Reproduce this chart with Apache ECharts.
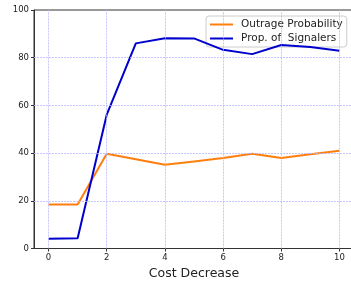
<!DOCTYPE html>
<html><head><meta charset="utf-8">
<script src="https://cdn.jsdelivr.net/npm/echarts@6/dist/echarts.min.js"></script>
<style>html,body{margin:0;padding:0;background:#fff}#c{width:351px;height:283px}</style>
</head><body><div id="c"></div>
<script>
const costDecrease = [0,1,2,3,4,5,6,7,8,9,10];
const outrageProbability = [18.5,18.5,39.7,37.4,35.1,36.5,37.9,39.7,37.9,39.5,41.0];
const propSignalers = [4.1,4.3,56.1,86.0,88.2,88.1,83.3,81.5,85.3,84.5,82.9];
const xTicks = [0,2,4,6,8,10];
const yGridTicks = [20,40,60,80];
const chart = echarts.init(document.getElementById('c'));
const font = 'DejaVu Sans';
const gridColor = '#b8b8ff';
chart.setOption({
  animation:false,
  grid:{left:34,width:320,top:10,height:238.5,show:true,borderColor:'#333',borderWidth:1,backgroundColor:'transparent',outerBoundsMode:'none',containLabel:false},
  legend:{
    orient:'vertical', left:206, top:16, padding:[3,4,3,4], itemGap:3,
    itemWidth:23, itemHeight:2, icon:'rect',
    backgroundColor:'rgba(255,255,255,0.8)', borderColor:'#ccc', borderWidth:1, borderRadius:3,
    textStyle:{fontFamily:font,fontSize:10.5,color:'#222',padding:[0,0,0,3]},
    data:['Outrage Probability','Prop. of  Signalers']
  },
  xAxis:{type:'value',min:-0.5,max:10.5,
    name:'Cost Decrease',nameLocation:'middle',nameGap:17,
    nameTextStyle:{fontFamily:font,fontSize:12.5,color:'#222'},
    axisLine:{onZero:false,lineStyle:{color:'#333',width:1}},
    axisTick:{customValues:xTicks,length:3,lineStyle:{color:'#333'}},
    axisLabel:{customValues:xTicks,fontFamily:font,fontSize:8.5,color:'#222',margin:5},
    splitLine:{show:false}},
  yAxis:{type:'value',min:0,max:100,interval:20,
    axisLine:{show:true,onZero:false,lineStyle:{color:'#333',width:1}},
    axisTick:{show:true,length:3,lineStyle:{color:'#333'}},
    axisLabel:{fontFamily:font,fontSize:8.5,color:'#222',margin:5},
    splitLine:{show:false}},
  series:[
    {name:'Outrage Probability',type:'line',data:costDecrease.map((x,i)=>[x,outrageProbability[i]]),
     showSymbol:false,lineStyle:{color:'#ff7f0e',width:2},itemStyle:{color:'#ff7f0e'},z:2,
     markLine:{silent:true,symbol:'none',label:{show:false},emphasis:{disabled:true},
       lineStyle:{color:gridColor,type:[2,1],width:0.8},
       data:xTicks.map(v=>({xAxis:v})).concat(yGridTicks.map(v=>({yAxis:v})))}},
    {name:'Prop. of  Signalers',type:'line',data:costDecrease.map((x,i)=>[x,propSignalers[i]]),
     showSymbol:false,lineStyle:{color:'#0000cd',width:2},itemStyle:{color:'#0000cd'},z:4}
  ]
});
</script></body></html>
